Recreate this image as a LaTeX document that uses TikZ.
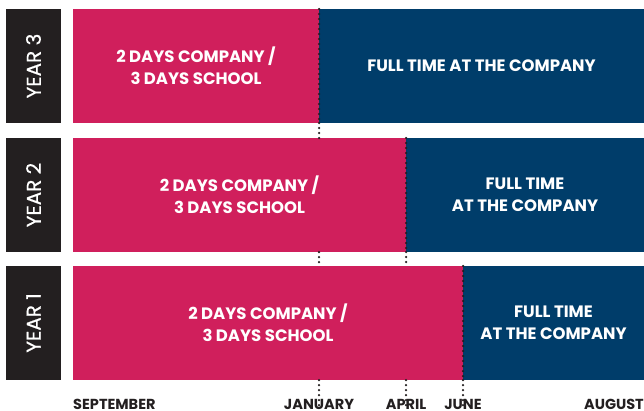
\documentclass[tikz,border=0pt]{standalone}
\usepackage{fontspec}
\setmainfont{Poppins}
\definecolor{pinkbar}{HTML}{D01F5C}
\definecolor{bluebar}{HTML}{003D6A}
\definecolor{darkbox}{HTML}{231F20}
\begin{document}
\begin{tikzpicture}[x=1pt,y=-1pt,
  bar/.style={inner sep=0pt,outer sep=0pt,text=white,align=center,minimum height=114pt,
    font=\bfseries\fontsize{16.5}{22}\selectfont},
  yearbox/.style={fill=darkbox,text=white,rotate=90,inner sep=0pt,outer sep=0pt,
    minimum width=114pt,minimum height=55pt,
    font=\fontsize{20}{22}\selectfont\addfontfeatures{FakeBold=0.6}},
  month/.style={inner sep=0pt,text depth=0pt,text=darkbox,
    font=\bfseries\fontsize{14.5}{16}\selectfont},
  tick/.style={darkbox,line width=2.5pt,line cap=round,dash pattern=on 0pt off 5pt}]
\useasboundingbox (0,0) rectangle (644,410);
% year 3
\node[yearbox] (y3) at (33.5,66) {YEAR 3};
\node[bar,fill=pinkbar,minimum width=246pt] (p3) at (196,66) {2 DAYS COMPANY /\\3 DAYS SCHOOL};
\node[bar,fill=bluebar,minimum width=325pt] (b3) at (481.5,66) {FULL TIME AT THE COMPANY};
% year 2
\node[yearbox] (y2) at (33.5,195) {YEAR 2};
\node[bar,fill=pinkbar,minimum width=333pt] (p2) at (239.5,195) {2 DAYS COMPANY /\\3 DAYS SCHOOL};
\node[bar,fill=bluebar,minimum width=238pt] (b2) at (525,195) {FULL TIME\\AT THE COMPANY};
% year 1
\node[yearbox] (y1) at (33.5,323) {YEAR 1};
\node[bar,fill=pinkbar,minimum width=390pt] (p1) at (268,323) {2 DAYS COMPANY /\\3 DAYS SCHOOL};
\node[bar,fill=bluebar,minimum width=181pt] (b1) at (553.5,323) {FULL TIME\\AT THE COMPANY};
% months
\node[month,anchor=south west] (sep) at (73,410) {SEPTEMBER};
\node[month,anchor=south] (jan) at (319,410) {JANUARY};
\node[month,anchor=south] (apr) at (406,410) {APRIL};
\node[month,anchor=south] (jun) at (463,410) {JUNE};
\node[month,anchor=south east] (aug) at (644,410) {AUGUST};
% dotted lines
\draw[tick] (b3.north west) -- (b3.south west);
\draw[tick] (b3.south west) -- (p2.north -| b3.west);
\draw[tick] (p2.south -| b3.west) -- (p1.north -| b3.west);
\draw[tick] (b2.north west) -- (b2.south west);
\draw[tick] (b2.south west) -- (p1.north -| b2.west);
\draw[tick] (b1.north west) -- (b1.south west);
\draw[tick] (p1.south -| jan) -- ([yshift=-8pt]jan.north);
\draw[tick] (p1.south -| apr) -- ([yshift=-8pt]apr.north);
\draw[tick] (b1.south west) -- ([yshift=-8pt]jun.north -| b1.west);
\end{tikzpicture}
\end{document}
